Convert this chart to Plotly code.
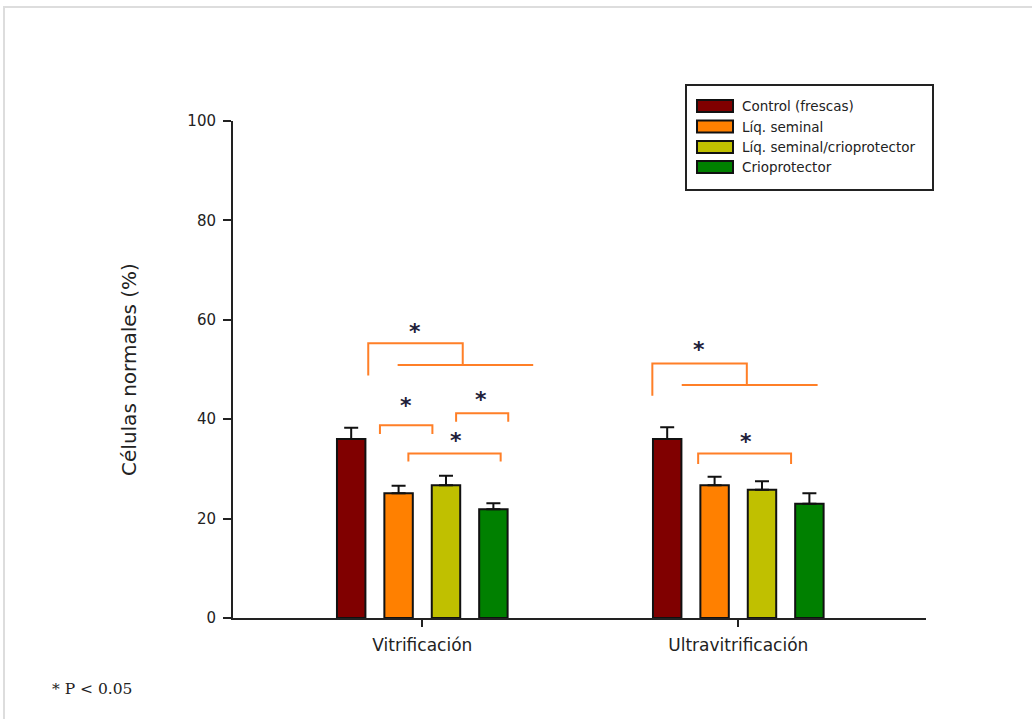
import plotly.graph_objects as go

# Data
groups = ["Vitrificación", "Ultravitrificación"]
series_names = ["Control (frescas)", "Líq. seminal", "Líq. seminal/crioprotector", "Crioprotector"]
series_colors = ["#800000", "#FF8000", "#C0C000", "#008000"]
control_vals = [36.0, 36.0]
seminal_vals = [25.1, 26.7]
seminal_crio_vals = [26.7, 25.8]
crio_vals = [21.9, 23.0]
control_err = [2.3, 2.4]
seminal_err = [1.5, 1.7]
seminal_crio_err = [1.9, 1.7]
crio_err = [1.2, 2.1]
y_ticks = [0, 20, 40, 60, 80, 100]

values = [control_vals, seminal_vals, seminal_crio_vals, crio_vals]
errors = [control_err, seminal_err, seminal_crio_err, crio_err]

FONT = "DejaVu Sans, Liberation Sans, Arial, sans-serif"
BRACKET = "#FF7F27"
STAR = "#1f1f3a"

# Plot area geometry (pixels)
W, H = 1032, 719
L, R, T, B = 233, 926, 121, 618

fig = go.Figure()
for name, color, vals, errs in zip(series_names, series_colors, values, errors):
    fig.add_trace(go.Bar(
        x=groups, y=vals, name=name, showlegend=False,
        marker=dict(color=color, line=dict(color="#111111", width=2)),
        error_y=dict(type="data", symmetric=False, array=errs,
                     arrayminus=[0] * len(errs), color="#111111",
                     thickness=2, width=7),
    ))

# Significance brackets: polylines in (category offset, value) coordinates
brackets = [
    # Vitrificación: control vs others
    (0, [(-0.171, 48.8), (-0.171, 55.3), (0.128, 55.3), (0.128, 50.9)]),
    (0, [(-0.078, 50.9), (0.351, 50.9)]),
    # Vitrificación: seminal vs seminal/crio
    (0, [(-0.134, 37.0), (-0.134, 38.8), (0.032, 38.8), (0.032, 37.0)]),
    # Vitrificación: seminal/crio vs crio
    (0, [(0.107, 39.5), (0.107, 41.2), (0.272, 41.2), (0.272, 39.5)]),
    # Vitrificación: seminal vs crio
    (0, [(-0.044, 31.5), (-0.044, 33.1), (0.248, 33.1), (0.248, 31.5)]),
    # Ultravitrificación: control vs others
    (1, [(-0.272, 44.7), (-0.272, 51.2), (0.027, 51.2), (0.027, 46.9)]),
    (1, [(-0.179, 46.9), (0.251, 46.9)]),
    # Ultravitrificación: seminal vs crio
    (1, [(-0.127, 31.0), (-0.127, 33.1), (0.167, 33.1), (0.167, 31.0)]),
]
for gi, pts in brackets:
    path = "M " + " L ".join(f"{gi + dx},{y}" for dx, y in pts)
    fig.add_shape(type="path", path=path, xref="x", yref="y",
                  line=dict(color=BRACKET, width=2))

stars = [
    (0, -0.023, 58.3), (0, -0.053, 43.4), (0, 0.187, 44.5), (0, 0.106, 36.4),
    (1, -0.123, 54.6), (1, 0.023, 36.2),
]
for gi, dx, y in stars:
    fig.add_annotation(x=gi + dx, y=y, xref="x", yref="y", text="<b>*</b>",
                       showarrow=False, yanchor="middle", yshift=-3,
                       font=dict(family=FONT, size=22, color=STAR))


def px_x(p):
    return (p - L) / (R - L)


def px_y(p):
    return (B - p) / (B - T)


# Legend key box
fig.add_shape(type="rect", xref="paper", yref="paper",
              x0=px_x(686), x1=px_x(933), y0=px_y(190), y1=px_y(85),
              line=dict(color="#222222", width=2), fillcolor="white")
row_y = [106, 126.5, 147, 167]
for name, color, ry in zip(series_names, series_colors, row_y):
    fig.add_shape(type="rect", xref="paper", yref="paper",
                  x0=px_x(697), x1=px_x(733), y0=px_y(ry + 6), y1=px_y(ry - 6),
                  line=dict(color="#111111", width=2), fillcolor=color)
    fig.add_annotation(xref="paper", yref="paper", x=px_x(740), y=px_y(ry),
                       text=name, showarrow=False, xanchor="left", yanchor="middle",
                       font=dict(family=FONT, size=13.5, color="#222222"))

# Footnote
fig.add_annotation(xref="paper", yref="paper", x=px_x(50), y=px_y(689),
                   text="* P < 0.05", showarrow=False, xanchor="left", yanchor="middle",
                   font=dict(family="DejaVu Serif, Liberation Serif, serif", size=15.5,
                             color="#222222"))

# Light outer frame
fig.add_shape(type="rect", xref="paper", yref="paper",
              x0=px_x(4), x1=px_x(1060), y0=px_y(760), y1=px_y(7),
              line=dict(color="#dddddd", width=2), layer="below")

fig.update_layout(
    width=W, height=H,
    margin=dict(l=L, r=W - R, t=T, b=H - B),
    paper_bgcolor="white", plot_bgcolor="white",
    barmode="group", bargap=0.4, bargroupgap=0.4,
    showlegend=False,
    font=dict(family=FONT, color="#222222"),
)
fig.update_xaxes(
    range=[-0.599, 1.594], showline=True, linecolor="#222222", linewidth=2,
    ticks="outside", ticklen=7, tickwidth=1.5, tickcolor="#222222",
    tickfont=dict(size=17), ticklabelstandoff=4, showgrid=False, zeroline=False,
)
fig.update_yaxes(
    range=[0, 100], tickvals=y_ticks, showline=True, linecolor="#222222", linewidth=2,
    ticks="outside", ticklen=8, tickwidth=1.5, tickcolor="#222222",
    tickfont=dict(size=15), ticklabelstandoff=4, showgrid=False, zeroline=False,
    title=dict(text="Células normales (%)", font=dict(size=20), standoff=45),
)

fig.write_html("out.html")
